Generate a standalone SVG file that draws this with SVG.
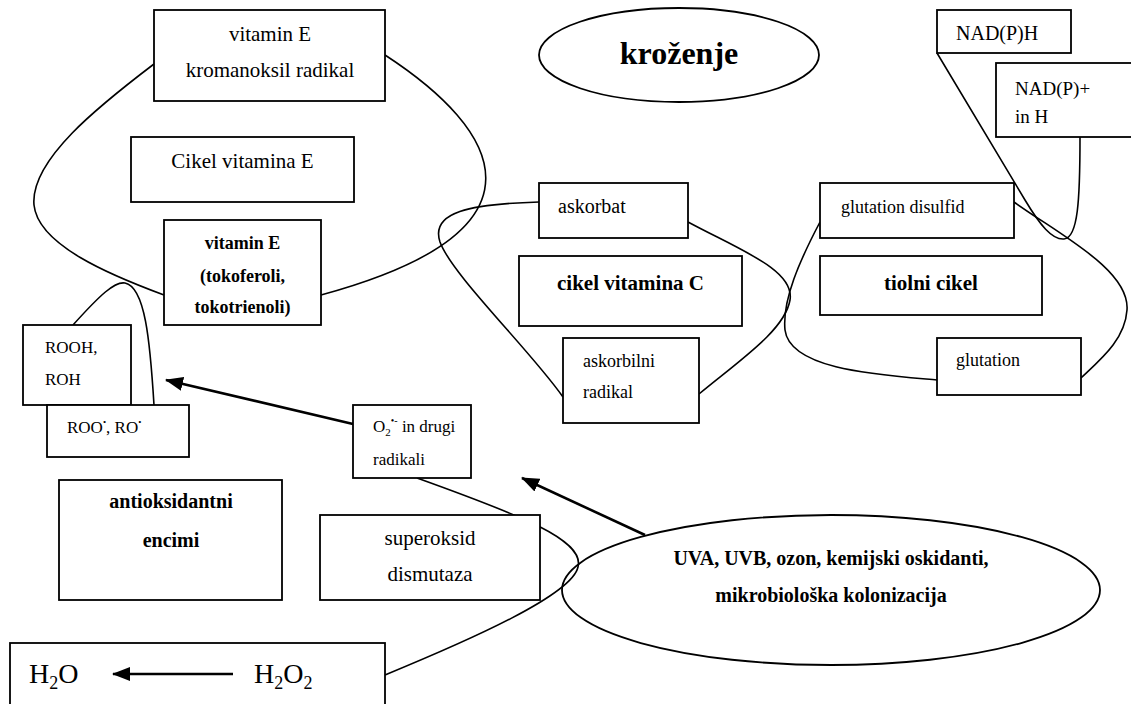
<svg xmlns="http://www.w3.org/2000/svg" width="1131" height="704" viewBox="0 0 1131 704">
<style>
.b{fill:#fff;stroke:#000;stroke-width:1.8}
.c{fill:none;stroke:#000;stroke-width:1.6}
.a{fill:none;stroke:#000;stroke-width:2.6}
text{font-family:"Liberation Serif","Times New Roman",serif;fill:#000}
.m{text-anchor:middle}
.bo{font-weight:bold}
</style>
<defs>
<marker id="ah" markerWidth="18" markerHeight="14" refX="17" refY="7" orient="auto" markerUnits="userSpaceOnUse"><path d="M0,0 L18,7 L0,14 Z" fill="#000"/></marker>
</defs>
<rect width="1131" height="704" fill="#fff"/>
<g id="connectors">
<path class="c" d="M154,64 C100,105 30,160 34,205 C38,245 110,275 164,295"/>
<path class="c" d="M385,55 C500,130 560,230 321,295"/>
<path class="c" d="M73,325 C100,295 115,281 125,283 C145,287 150,340 154,405"/>
<path class="c" d="M539,202 C470,204 430,212 440,242 C452,275 530,350 563,397"/>
<path class="c" d="M688,222 C740,250 795,270 790,300 C785,330 740,360 699,394"/>
<path class="c" d="M820,222 C800,260 782,300 785,330 C790,370 880,375 937,380"/>
<path class="c" d="M1014,202 C1060,235 1130,270 1127,310 C1125,340 1100,360 1081,378"/>
<path class="c" d="M937,53 L1025,200 C1040,225 1052,240 1064,239 C1078,238 1080,200 1080,137"/>
<path class="c" d="M417,478 C520,515 585,540 578,567 C572,595 470,640 385,675"/>
<line class="a" x1="353" y1="424" x2="166" y2="380" marker-end="url(#ah)"/>
<line class="a" x1="645" y1="535" x2="522" y2="478" marker-end="url(#ah)"/>
</g>
<g id="kromanoksil"><rect class="b" x="154" y="10" width="231" height="91"/>
<text class="m" x="270" y="41" font-size="21">vitamin E</text>
<text class="m" x="270" y="77" font-size="21">kromanoksil radikal</text></g>
<g id="cikelE"><rect class="b" x="131" y="137" width="223" height="65"/>
<text class="m" x="242.5" y="168" font-size="21">Cikel vitamina E</text></g>
<g id="vitaminE"><rect class="b" x="164" y="220" width="157" height="105"/>
<text class="m bo" x="242.5" y="249" font-size="18">vitamin E</text>
<text class="m bo" x="242.5" y="282" font-size="18">(tokoferoli,</text>
<text class="m bo" x="242.5" y="313" font-size="18">tokotrienoli)</text></g>
<g id="krozenje"><ellipse cx="679" cy="55" rx="140" ry="47" fill="#fff" stroke="#000" stroke-width="1.8"/>
<text class="m bo" x="679" y="64" font-size="32">kroženje</text></g>
<g id="nadph"><rect class="b" x="937" y="10" width="134" height="43"/>
<text x="956" y="40" font-size="20">NAD(P)H</text></g>
<g id="nadp"><rect class="b" x="996" y="63" width="140" height="74"/>
<text x="1015" y="95" font-size="19">NAD(P)+</text>
<text x="1015" y="123" font-size="19">in H</text></g>
<g id="askorbat"><rect class="b" x="539" y="183" width="149" height="55"/>
<text x="558" y="213" font-size="20">askorbat</text></g>
<g id="gsdisulfid"><rect class="b" x="820" y="183" width="194" height="55"/>
<text x="841" y="213" font-size="18">glutation disulfid</text></g>
<g id="cikelC"><rect class="b" x="519" y="256" width="223" height="70"/>
<text class="m bo" x="630.5" y="290" font-size="21">cikel vitamina C</text></g>
<g id="tiolni"><rect class="b" x="820" y="256" width="222" height="59"/>
<text class="m bo" x="931" y="290" font-size="21">tiolni cikel</text></g>
<g id="askorbilni"><rect class="b" x="563" y="338" width="136" height="85"/>
<text x="583" y="367" font-size="18">askorbilni</text>
<text x="583" y="398" font-size="18">radikal</text></g>
<g id="glutation"><rect class="b" x="937" y="338" width="144" height="57"/>
<text x="956" y="366" font-size="18">glutation</text></g>
<g id="rooh"><rect class="b" x="23" y="325" width="108" height="80"/>
<text x="45" y="353" font-size="17">ROOH,</text>
<text x="45" y="385" font-size="17">ROH</text></g>
<g id="roo"><rect class="b" x="47" y="405" width="142" height="52"/>
<text x="67" y="433" font-size="17">ROO<tspan font-size="9" dy="-8">•</tspan><tspan dy="8">, RO</tspan><tspan font-size="9" dy="-8">•</tspan></text></g>
<g id="o2"><rect class="b" x="353" y="405" width="118" height="73"/>
<text x="373" y="432" font-size="17">O<tspan font-size="11" dy="4">2</tspan><tspan font-size="10" dy="-12">•-</tspan><tspan dy="8"> in drugi</tspan></text>
<text x="373" y="465" font-size="17">radikali</text></g>
<g id="antioks"><rect class="b" x="59" y="480" width="223" height="120"/>
<text class="m bo" x="171" y="508" font-size="20">antioksidantni</text>
<text class="m bo" x="171" y="547" font-size="20">encimi</text></g>
<g id="sod"><rect class="b" x="320" y="515" width="220" height="85"/>
<text class="m" x="430" y="545" font-size="21">superoksid</text>
<text class="m" x="430" y="581" font-size="21">dismutaza</text></g>
<g id="uva"><ellipse cx="831" cy="590" rx="269" ry="75" fill="none" stroke="#000" stroke-width="1.8"/>
<text class="m bo" x="831" y="565" font-size="20">UVA, UVB, ozon, kemijski oskidanti,</text>
<text class="m bo" x="831" y="602" font-size="20">mikrobiološka kolonizacija</text></g>
<g id="h2o"><rect class="b" x="10" y="643" width="375" height="70"/>
<text x="29" y="683" font-size="28">H<tspan font-size="18" dy="6">2</tspan><tspan dy="-6">O</tspan></text>
<text x="254" y="683" font-size="28">H<tspan font-size="18" dy="6">2</tspan><tspan dy="-6">O</tspan><tspan font-size="18" dy="6">2</tspan></text>
<line class="a" x1="233" y1="674" x2="113" y2="674" stroke-width="2.2" marker-end="url(#ah)"/></g>
</svg>
